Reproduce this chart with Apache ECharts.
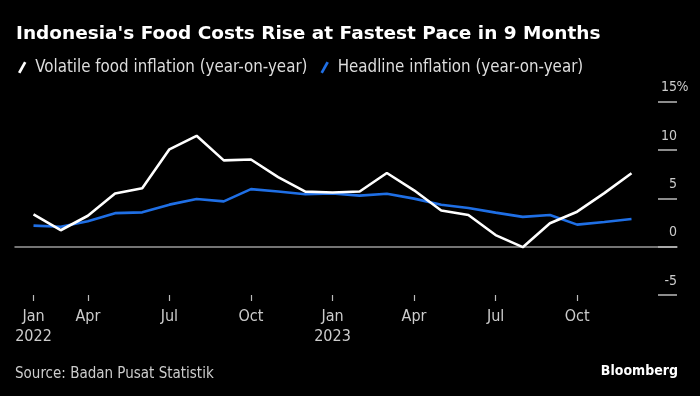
<!DOCTYPE html>
<html>
<head>
<meta charset="utf-8">
<script src="https://cdn.jsdelivr.net/npm/echarts@6/dist/echarts.min.js"></script>
<style>
  html, body { margin: 0; padding: 0; background: #000; }
  #chart { width: 700px; height: 396px; }
</style>
</head>
<body>
<div id="chart"></div>
<script>
// month-end observations, Jan 2022 - Nov 2023
const months = [
  '2022-01', '2022-02', '2022-03', '2022-04', '2022-05', '2022-06',
  '2022-07', '2022-08', '2022-09', '2022-10', '2022-11', '2022-12',
  '2023-01', '2023-02', '2023-03', '2023-04', '2023-05', '2023-06',
  '2023-07', '2023-08', '2023-09', '2023-10', '2023-11'
];
// tick label shown under each observation ('' = no tick)
const tickLabels = [
  'Jan\n2022', '', 'Apr', '', '', 'Jul', '', '', 'Oct', '', '', 'Jan\n2023',
  '', '', 'Apr', '', '', 'Jul', '', '', 'Oct', '', ''
];
const volatileFood = [
  3.35, 1.7, 3.2, 5.5, 6.05, 10.07, 11.47, 8.93, 9.02, 7.19, 5.70, 5.61,
  5.71, 7.62, 5.83, 3.74, 3.28, 1.20, -0.05, 2.42, 3.62, 5.54, 7.59
];
const headline = [
  2.18, 2.06, 2.64, 3.47, 3.55, 4.35, 4.94, 4.69, 5.95, 5.71, 5.42, 5.51,
  5.28, 5.47, 4.97, 4.33, 4.00, 3.52, 3.08, 3.27, 2.28, 2.56, 2.86
];
const yTicks = { min: -5, max: 15, step: 5 };

const font = "'DejaVu Sans Condensed', 'Liberation Sans Narrow', sans-serif";
const titleFont = "'DejaVu Sans', sans-serif";
const white = '#ffffff';
const blue = '#1f6fe5';
const slash = 'path://M0,9 L5,0 L7,1 L2,10 Z';

const chart = echarts.init(document.getElementById('chart'));

const option = {
  backgroundColor: '#000',
  animation: false,
  textStyle: { fontFamily: font },
  title: {
    text: "Indonesia's Food Costs Rise at Fastest Pace in 9 Months",
    left: 11,
    top: 20,
    textStyle: { color: white, fontSize: 18.5, fontWeight: 'bold', fontFamily: titleFont },
  },
  legend: {
    left: 13,
    top: 54,
    itemWidth: 10,
    itemHeight: 12,
    itemGap: 13,
    data: [
      { name: 'Volatile food inflation (year-on-year)', icon: slash, itemStyle: { color: white } },
      { name: 'Headline inflation (year-on-year)', icon: slash, itemStyle: { color: blue } },
    ],
    textStyle: { color: '#dddddd', fontSize: 16.8, fontFamily: font, padding: [0, 0, 0, 3] },
  },
  graphic: [
    {
      type: 'text',
      left: 15,
      top: 366.5,
      style: { text: 'Source: Badan Pusat Statistik', fill: '#cccccc', font: '15px ' + font },
    },
    {
      type: 'text',
      right: 22,
      top: 364,
      style: { text: 'Bloomberg', fill: white, font: 'bold 14px ' + font },
    },
  ],
  grid: [
    { left: 15, right: 23, top: 101.7, bottom: 101 },
    { left: 33.5, right: 68.5, top: 101.7, bottom: 101 },
  ],
  xAxis: [
    {
      // carries the zero line across the full width
      gridIndex: 0,
      type: 'value',
      min: 0,
      max: 1,
      axisLine: { show: true, onZero: true, lineStyle: { color: '#9a9a9a', width: 1.5 } },
      axisTick: { show: false },
      axisLabel: { show: false },
      splitLine: { show: false },
    },
    {
      gridIndex: 1,
      type: 'category',
      data: months,
      boundaryGap: false,
      axisLine: { show: false, onZero: false },
      axisTick: {
        show: true,
        length: 6,
        interval: (i) => tickLabels[i] !== '',
        lineStyle: { color: '#bbbbbb', width: 1.2 },
      },
      axisLabel: {
        interval: (i) => tickLabels[i] !== '',
        formatter: (v, i) => tickLabels[i],
        color: '#cccccc',
        fontSize: 16,
        lineHeight: 20,
        margin: 11.5,
        fontFamily: font,
      },
      splitLine: { show: false },
    },
  ],
  yAxis: [
    {
      gridIndex: 0,
      type: 'value',
      position: 'right',
      min: yTicks.min,
      max: yTicks.max,
      interval: yTicks.step,
      axisLine: { show: false, onZero: false },
      axisTick: { show: true, inside: true, length: 19, lineStyle: { color: '#bbbbbb', width: 1.5 } },
      splitLine: { show: false },
      axisLabel: {
        align: 'right',
        margin: 11,
        color: '#cccccc',
        fontSize: 14,
        fontFamily: font,
        verticalAlign: 'bottom',
        lineHeight: 16,
        padding: [0, 0, 6, 0],
        // numbers end at the tick, the % sign hangs past it
        formatter: (v) => (v === yTicks.max ? '{n|' + v + '}{p|%}' : '{n|' + v + '}{p|}'),
        rich: {
          n: { color: '#cccccc', fontSize: 14, fontFamily: font },
          p: { width: 11, align: 'left', color: '#cccccc', fontSize: 14, fontFamily: font },
        },
      },
    },
    {
      gridIndex: 1,
      type: 'value',
      min: yTicks.min,
      max: yTicks.max,
      interval: yTicks.step,
      show: false,
    },
  ],
  series: [
    {
      name: 'Volatile food inflation (year-on-year)',
      type: 'line',
      xAxisIndex: 1,
      yAxisIndex: 1,
      data: volatileFood,
      showSymbol: false,
      z: 3,
      lineStyle: { color: white, width: 2.6 },
      itemStyle: { color: white },
    },
    {
      name: 'Headline inflation (year-on-year)',
      type: 'line',
      xAxisIndex: 1,
      yAxisIndex: 1,
      data: headline,
      showSymbol: false,
      z: 2,
      lineStyle: { color: blue, width: 2.6 },
      itemStyle: { color: blue },
    },
  ],
};

chart.setOption(option);
</script>
</body>
</html>
